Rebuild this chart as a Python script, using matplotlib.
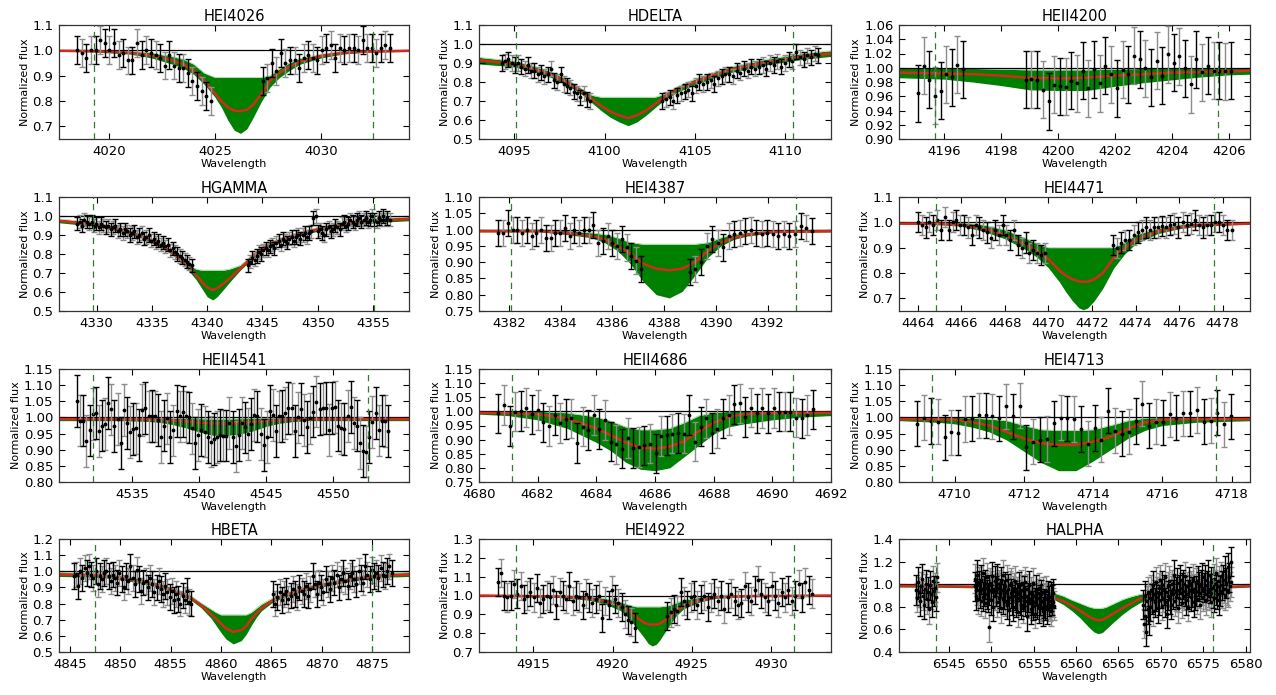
import numpy as np
import matplotlib
matplotlib.use("Agg")
import matplotlib.pyplot as plt

# ---------------- data ----------------
# model grid, best fit (red), green envelope (low/high), observed flux blocks

HEI4026_WAVE = [4017.6, 4019, 4020, 4021, 4022, 4023, 4023.5, 4024, 4024.5, 4025, 4025.3, 4025.6,
                4025.9, 4026.2, 4026.5, 4026.8, 4027.2, 4027.6, 4028, 4028.5, 4029, 4030, 4031,
                4032, 4034.2]
HEI4026_FIT = [0.998, 0.997, 0.995, 0.99, 0.98, 0.96, 0.945, 0.92, 0.88, 0.83, 0.80, 0.775,
               0.762, 0.76, 0.765, 0.785, 0.83, 0.88, 0.91, 0.935, 0.955, 0.978, 0.99,
               0.995, 0.998]
HEI4026_LOW = [0.996, 0.994, 0.99, 0.985, 0.97, 0.945, 0.93, 0.905, 0.865, 0.815, 0.775, 0.725,
               0.685, 0.672, 0.69, 0.735, 0.80, 0.855, 0.89, 0.92, 0.945, 0.97, 0.985,
               0.992, 0.996]
HEI4026_HIGH = [1.0, 1.0, 0.999, 0.997, 0.99, 0.975, 0.965, 0.945, 0.91, 0.893, 0.893, 0.893,
                0.893, 0.893, 0.893, 0.893, 0.893, 0.90, 0.925, 0.95, 0.968, 0.985, 0.995,
                0.998, 1.0]
HEI4026_OBS_RANGES = [(4018.5, 4024.8), (4027.25, 4033.25)]
HEI4026_OBS = [[1.00, 0.99, 0.97, 1.00, 1.00, 1.04, 1.03, 1.00, 1.03, 0.98, 0.99, 0.96, 0.96, 1.03, 0.98,
                1.00, 0.99, 0.98, 0.97, 0.94, 0.98, 0.94, 0.93, 0.93, 0.91, 0.88, 0.86, 0.84, 0.82, 0.80],
               [0.88, 0.89, 0.95, 0.92, 0.99, 0.95, 0.96, 0.96, 0.93, 0.97, 0.98, 0.97, 0.96, 1.00, 1.01,
                1.02, 0.97, 1.01, 1.00, 1.01, 1.01, 1.00, 1.04, 1.01, 1.01, 0.99, 1.01, 1.02, 1.01]]
HEI4026_ERR = 0.055
HEI4026_WINDOW = [4019.3, 4032.45]

HDELTA_WAVE = [4093, 4095, 4096, 4097, 4098, 4098.8, 4099.3, 4099.8, 4100.3, 4100.8, 4101.3, 4101.8,
               4102.3, 4102.8, 4103.3, 4104, 4105, 4106, 4107, 4108, 4109, 4110, 4111, 4112.6]
HDELTA_FIT = [0.915, 0.895, 0.87, 0.84, 0.795, 0.745, 0.71, 0.675, 0.645, 0.625, 0.61, 0.625,
              0.65, 0.685, 0.72, 0.76, 0.80, 0.835, 0.865, 0.885, 0.905, 0.92, 0.935, 0.95]
HDELTA_LOW = [0.895, 0.88, 0.855, 0.825, 0.78, 0.73, 0.69, 0.65, 0.615, 0.59, 0.57, 0.59,
              0.625, 0.665, 0.705, 0.745, 0.785, 0.82, 0.85, 0.87, 0.89, 0.905, 0.92, 0.935]
HDELTA_HIGH = [0.93, 0.91, 0.885, 0.855, 0.81, 0.76, 0.73, 0.72, 0.72, 0.72, 0.72, 0.72,
               0.72, 0.72, 0.735, 0.775, 0.815, 0.85, 0.88, 0.90, 0.92, 0.935, 0.95, 0.965]
HDELTA_OBS_RANGES = [(4094.3, 4099.2), (4103.2, 4111.85)]
HDELTA_OBS = [[0.90, 0.91, 0.92, 0.90, 0.89, 0.90, 0.88, 0.87, 0.89, 0.86, 0.86, 0.84, 0.85, 0.83,
               0.84, 0.87, 0.81, 0.80, 0.84, 0.79, 0.78, 0.77, 0.75, 0.74, 0.72, 0.74, 0.71, 0.70],
              [0.70, 0.71, 0.72, 0.70, 0.73, 0.74, 0.75, 0.76, 0.74, 0.78, 0.80, 0.79, 0.80, 0.81, 0.79,
               0.82, 0.83, 0.84, 0.84, 0.83, 0.86, 0.85, 0.87, 0.86, 0.88, 0.87, 0.88, 0.89, 0.87, 0.90,
               0.89, 0.91, 0.88, 0.90, 0.92, 0.91, 0.96, 0.93, 0.92, 0.94, 0.93, 0.95, 0.94]]
HDELTA_ERR = 0.04
HDELTA_WINDOW = [4095.07, 4110.46]

HEII4200_WAVE = [4194.4, 4196, 4197, 4198, 4199, 4200, 4201, 4202, 4203, 4204, 4205, 4206, 4206.8]
HEII4200_FIT = [0.993, 0.992, 0.991, 0.989, 0.986, 0.985, 0.986, 0.989, 0.991, 0.993, 0.994, 0.995, 0.996]
HEII4200_LOW = [0.986, 0.984, 0.98, 0.975, 0.969, 0.968, 0.968, 0.974, 0.979, 0.983, 0.987, 0.99, 0.991]
HEII4200_HIGH = [0.999, 0.999, 0.999, 0.998, 0.997, 0.997, 0.997, 0.998, 0.999, 0.999, 0.999, 0.999, 0.999]
HEII4200_OBS_RANGES = [(4195.09, 4196.67), (4198.87, 4206.06)]
HEII4200_OBS = [[0.964, 1.003, 0.983, 0.961, 0.968, 0.991, 0.987, 1.004, 0.998],
                [0.983, 0.984, 0.983, 0.969, 0.953, 0.976, 0.974, 0.973, 0.982, 0.978, 0.996, 0.971,
                 0.998, 0.978, 1.003, 0.991, 0.971, 0.997, 0.991, 1.017, 1.012, 0.999, 0.987, 1.010,
                 0.989, 1.019, 1.007, 1.016, 0.999, 0.977, 1.012, 0.994, 1.003, 0.996, 0.996, 0.995, 0.996]]
HEII4200_ERR = 0.04
HEII4200_WINDOW = [4195.67, 4205.6]

HGAMMA_WAVE = [4326.5, 4330, 4332, 4334, 4336, 4337, 4338, 4339, 4339.5, 4340, 4340.5, 4340.9,
               4341.5, 4342, 4343, 4344, 4345, 4346, 4348, 4350, 4352, 4355, 4358.3]
HGAMMA_FIT = [0.975, 0.955, 0.93, 0.895, 0.84, 0.80, 0.75, 0.69, 0.655, 0.625, 0.61, 0.62,
              0.645, 0.67, 0.725, 0.78, 0.83, 0.86, 0.90, 0.93, 0.955, 0.975, 0.985]
HGAMMA_LOW = [0.965, 0.945, 0.92, 0.885, 0.83, 0.79, 0.735, 0.665, 0.62, 0.575, 0.558, 0.575,
              0.615, 0.65, 0.715, 0.77, 0.82, 0.85, 0.89, 0.92, 0.945, 0.965, 0.975]
HGAMMA_HIGH = [0.985, 0.965, 0.94, 0.905, 0.85, 0.81, 0.76, 0.72, 0.715, 0.715, 0.715, 0.715,
               0.715, 0.72, 0.74, 0.79, 0.84, 0.87, 0.91, 0.94, 0.965, 0.985, 0.995]
HGAMMA_OBS_RANGES = [(4328.25, 4338.6), (4343.7, 4356.5)]
HGAMMA_OBS = [[0.96, 0.97, 0.95, 0.98, 0.97, 0.96, 0.97, 0.95, 0.96, 0.94, 0.96, 0.95, 0.94, 0.95,
               0.93, 0.94, 0.95, 0.92, 0.93, 0.91, 0.93, 0.92, 0.90, 0.91, 0.92, 0.89, 0.90, 0.91,
               0.88, 0.89, 0.90, 0.87, 0.88, 0.86, 0.87, 0.85, 0.86, 0.84, 0.85, 0.82, 0.83, 0.81,
               0.80, 0.79, 0.78, 0.77, 0.76, 0.75, 0.74],
              [0.74, 0.76, 0.78, 0.77, 0.79, 0.81, 0.80, 0.82, 0.83, 0.82, 0.84, 0.85, 0.83, 0.86,
               0.87, 0.85, 0.88, 0.87, 0.86, 0.88, 0.89, 0.87, 0.89, 0.90, 0.88, 0.90, 0.91, 0.89,
               0.91, 0.92, 0.99, 1.00, 0.92, 0.93, 0.91, 0.90, 0.93, 0.94, 0.92, 0.93, 0.95, 0.94,
               0.93, 0.96, 0.97, 0.95, 0.96, 0.98, 0.97, 0.96, 0.98, 0.99, 0.97, 0.98, 0.99, 0.97,
               0.98, 1.00, 0.98, 0.97, 0.99, 0.98, 1.00, 0.98, 0.99, 0.98]]
HGAMMA_ERR = 0.035
HGAMMA_WINDOW = [4329.7, 4355.05]

HEI4387_WAVE = [4380.8, 4383.2, 4384.2, 4385.2, 4385.7, 4386.2, 4386.7, 4387.2, 4387.7, 4388.2,
                4388.7, 4389.2, 4389.7, 4390.2, 4390.7, 4391.2, 4392.2, 4394.5]
HEI4387_FIT = [0.995, 0.995, 0.99, 0.98, 0.97, 0.95, 0.925, 0.895, 0.88, 0.875,
               0.88, 0.90, 0.935, 0.96, 0.975, 0.985, 0.993, 0.995]
HEI4387_LOW = [0.993, 0.993, 0.985, 0.975, 0.96, 0.935, 0.895, 0.84, 0.80, 0.79,
               0.81, 0.86, 0.915, 0.95, 0.97, 0.98, 0.99, 0.993]
HEI4387_HIGH = [1.0, 1.0, 0.997, 0.99, 0.985, 0.975, 0.96, 0.955, 0.955, 0.955,
                0.955, 0.955, 0.96, 0.975, 0.985, 0.99, 0.997, 1.0]
HEI4387_OBS_RANGES = [(4381.6, 4387.1), (4389.0, 4393.7)]
HEI4387_OBS = [[0.99, 0.99, 1.02, 1.00, 1.00, 0.99, 1.00, 0.98, 0.99, 1.00, 0.975, 0.975, 0.99, 0.99,
                1.005, 0.98, 1.00, 0.99, 1.00, 1.00, 1.015, 0.96, 0.965, 0.98, 0.96, 0.95, 0.97,
                0.945, 0.92, 0.905, 0.88],
               [0.87, 0.88, 0.90, 0.95, 0.97, 0.96, 0.945, 0.98, 0.985, 0.99, 0.995, 1.00, 0.99,
                0.985, 0.99, 0.985, 0.98, 0.985, 0.98, 0.985, 1.01, 1.005, 0.995]]
HEI4387_ERR = 0.04
HEI4387_WINDOW = [4382.1, 4393.1]

HEI4471_WAVE = [4463.1, 4465, 4466, 4467, 4468, 4469, 4469.5, 4470, 4470.5, 4470.8, 4471.1, 4471.4,
                4471.6, 4471.8, 4472.1, 4472.5, 4473, 4473.5, 4474, 4475, 4476, 4477, 4479.3]
HEI4471_FIT = [0.995, 0.995, 0.99, 0.975, 0.95, 0.91, 0.885, 0.855, 0.81, 0.79, 0.775, 0.767,
               0.765, 0.766, 0.775, 0.80, 0.86, 0.90, 0.93, 0.965, 0.98, 0.99, 0.995]
HEI4471_LOW = [0.993, 0.99, 0.985, 0.965, 0.935, 0.89, 0.86, 0.82, 0.765, 0.725, 0.69, 0.662,
               0.655, 0.662, 0.69, 0.74, 0.82, 0.875, 0.915, 0.955, 0.975, 0.985, 0.993]
HEI4471_HIGH = [1.0, 1.0, 0.998, 0.99, 0.97, 0.935, 0.915, 0.90, 0.90, 0.90, 0.90, 0.90,
                0.90, 0.90, 0.90, 0.90, 0.90, 0.92, 0.95, 0.975, 0.99, 0.997, 1.0]
HEI4471_OBS_RANGES = [(4464.0, 4469.83), (4472.97, 4478.41)]
HEI4471_OBS = [[1.00, 0.99, 0.98, 1.00, 0.99, 1.01, 0.97, 1.02, 0.97, 1.00, 1.01, 0.99, 0.99, 0.98,
                0.95, 0.99, 0.98, 0.97, 0.96, 0.94, 0.97, 0.95, 0.99, 0.95, 0.93, 0.97, 0.91, 0.90,
                0.92, 0.88, 0.89, 0.88, 0.87, 0.88],
               [0.91, 0.90, 0.92, 0.93, 0.93, 0.95, 0.96, 0.97, 0.98, 0.97, 0.98, 0.98, 0.985, 0.98,
                0.99, 0.995, 0.98, 1.00, 0.99, 0.995, 1.01, 0.99, 0.98, 0.99, 0.99, 1.00, 1.00, 0.99,
                0.97, 0.97]]
HEI4471_ERR = 0.04
HEI4471_WINDOW = [4464.81, 4477.62]

HEII4541_WAVE = [4529.5, 4534, 4536, 4537, 4538, 4539, 4540, 4541, 4542, 4543, 4544, 4545,
                 4546, 4547, 4548, 4550, 4555.7]
HEII4541_FIT = [0.995, 0.995, 0.994, 0.993, 0.991, 0.988, 0.984, 0.981, 0.981, 0.983, 0.986, 0.989,
                0.992, 0.994, 0.995, 0.995, 0.995]
HEII4541_LOW = [0.99, 0.99, 0.988, 0.985, 0.978, 0.968, 0.955, 0.945, 0.944, 0.948, 0.958, 0.972,
                0.982, 0.987, 0.99, 0.99, 0.99]
HEII4541_HIGH = [1.0, 1.0, 1.0, 0.999, 0.998, 0.997, 0.996, 0.995, 0.995, 0.996, 0.997, 0.998,
                 0.999, 1.0, 1.0, 1.0, 1.0]
HEII4541_OBS_RANGES = [(4530.9, 4554.1)]
HEII4541_OBS = [[1.051, 0.99, 0.99, 0.928, 0.96, 1.01, 1.013, 0.958, 0.975, 0.979, 1.044, 1.025,
                 0.974, 0.995, 0.92, 1.023, 0.982, 0.954, 0.965, 0.966, 0.946, 1.023, 1.03, 1.003,
                 1.005, 1.003, 0.993, 0.94, 0.975, 0.997, 0.94, 0.96, 1.02, 1.003, 1.018, 1.003,
                 1.0, 0.966, 0.92, 0.946, 0.962, 0.956, 0.94, 0.925, 0.934, 0.94, 0.946, 0.944,
                 0.944, 0.982, 0.94, 0.91, 0.946, 0.982, 0.969, 0.948, 0.98, 1.008, 1.003, 0.948,
                 0.915, 0.94, 1.02, 1.008, 0.958, 1.003, 1.005, 1.013, 1.03, 1.028, 0.958, 1.0,
                 1.026, 0.993, 0.97, 0.997, 1.018, 1.049, 1.026, 1.028, 1.03, 0.962, 1.03, 1.033,
                 0.975, 0.966, 0.965, 1.005, 1.033, 0.982, 0.975, 0.92, 0.896, 0.894, 0.94, 0.985,
                 1.013, 0.96, 0.99, 0.988, 0.958]]
HEII4541_ERR = 0.08
HEII4541_WINDOW = [4532.1, 4552.6]

HEII4686_WAVE = [4680, 4681, 4682, 4683, 4684, 4684.5, 4685, 4685.5, 4686, 4686.5, 4687, 4687.5,
                 4688, 4688.5, 4689, 4690, 4691, 4692]
HEII4686_FIT = [0.995, 0.994, 0.99, 0.975, 0.94, 0.915, 0.89, 0.872, 0.868, 0.875, 0.895, 0.93,
                0.96, 0.98, 0.99, 0.994, 0.995, 0.995]
HEII4686_LOW = [0.99, 0.985, 0.97, 0.94, 0.89, 0.86, 0.82, 0.795, 0.79, 0.80, 0.84, 0.88,
                0.92, 0.945, 0.955, 0.97, 0.98, 0.985]
HEII4686_HIGH = [1.0, 1.0, 1.0, 0.995, 0.98, 0.965, 0.945, 0.935, 0.935, 0.94, 0.96, 0.985,
                 0.995, 1.0, 1.0, 1.0, 1.0, 1.0]
HEII4686_OBS_RANGES = [(4680.66, 4691.38)]
HEII4686_OBS = [[0.993, 1.022, 0.949, 0.999, 1.001, 1.013, 0.989, 1.005, 0.961, 0.949, 0.987, 0.958,
                 0.973, 0.975, 0.889, 0.946, 0.934, 0.987, 0.937, 0.969, 0.893, 0.883, 0.868, 0.906,
                 0.871, 0.874, 0.880, 0.886, 0.851, 0.913, 0.915, 0.921, 0.924, 0.921, 0.987, 0.893,
                 0.946, 0.975, 0.924, 0.939, 0.975, 0.987, 1.025, 1.028, 0.981, 1.013, 0.993, 1.011,
                 0.993, 1.011, 0.999, 0.999, 0.999, 0.978, 0.975, 0.987, 1.007]]
HEII4686_ERR = 0.07
HEII4686_WINDOW = [4681.12, 4690.72]

HEI4713_WAVE = [4708.4, 4709.5, 4710, 4710.5, 4711, 4711.5, 4712, 4712.5, 4713, 4713.5, 4714,
                4714.5, 4715, 4715.5, 4716, 4717, 4718.6]
HEI4713_FIT = [0.995, 0.994, 0.993, 0.985, 0.975, 0.955, 0.935, 0.92, 0.915, 0.915, 0.925,
               0.94, 0.965, 0.985, 0.993, 0.995, 0.995]
HEI4713_LOW = [0.99, 0.985, 0.98, 0.97, 0.955, 0.93, 0.895, 0.86, 0.835, 0.835, 0.865,
               0.90, 0.935, 0.96, 0.975, 0.985, 0.99]
HEI4713_HIGH = [1.0, 1.0, 1.0, 0.998, 0.995, 0.99, 0.975, 0.962, 0.96, 0.96, 0.962,
                0.975, 0.99, 0.998, 1.0, 1.0, 1.0]
HEI4713_OBS_RANGES = [(4708.92, 4717.98)]
HEI4713_OBS = [[0.98, 0.999, 0.989, 0.987, 0.939, 0.954, 0.953, 0.995, 0.997, 1.006, 1.006, 1.003,
                0.997, 1.034, 1.003, 1.036, 0.907, 0.925, 0.931, 0.933, 0.982, 0.999, 0.997, 0.995,
                0.964, 0.919, 0.967, 0.931, 1.021, 0.959, 0.949, 0.956, 0.989, 1.042, 0.975, 0.987,
                0.985, 1.01, 0.999, 1.013, 1.013, 1.023, 0.987, 0.99, 1.015, 0.979, 1.003]]
HEI4713_ERR = 0.07
HEI4713_WINDOW = [4709.33, 4717.54]

HBETA_WAVE = [4843.9, 4848, 4850, 4852, 4854, 4856, 4857, 4858, 4859, 4859.5, 4860, 4860.5, 4861.2,
              4862, 4862.5, 4863, 4863.5, 4864, 4865, 4866, 4868, 4870, 4872, 4874, 4876, 4878.7]
HBETA_FIT = [0.98, 0.975, 0.96, 0.94, 0.91, 0.865, 0.835, 0.79, 0.735, 0.705, 0.675, 0.645, 0.625,
             0.635, 0.66, 0.705, 0.74, 0.77, 0.815, 0.845, 0.885, 0.915, 0.94, 0.96, 0.975, 0.98]
HBETA_LOW = [0.968, 0.963, 0.948, 0.928, 0.898, 0.853, 0.822, 0.775, 0.71, 0.665, 0.62, 0.58, 0.55,
             0.57, 0.61, 0.665, 0.715, 0.755, 0.803, 0.833, 0.873, 0.903, 0.928, 0.948, 0.963, 0.968]
HBETA_HIGH = [0.992, 0.987, 0.972, 0.952, 0.922, 0.877, 0.848, 0.805, 0.765, 0.745, 0.73, 0.73, 0.73,
              0.73, 0.73, 0.745, 0.77, 0.795, 0.83, 0.857, 0.897, 0.927, 0.952, 0.972, 0.987, 0.992]
HBETA_OBS_RANGES = [(4845.4, 4857.06), (4865.15, 4876.9)]
HBETA_OBS = [[0.97, 0.98, 0.91, 1.00, 0.96, 1.02, 0.99, 1.03, 0.98, 0.96, 1.00, 0.92, 0.97, 0.95,
              0.99, 1.00, 0.97, 0.94, 0.98, 0.96, 0.93, 0.99, 0.95, 0.90, 0.97, 0.94, 1.03, 0.96,
              0.92, 1.01, 0.95, 0.88, 0.93, 0.94, 0.90, 0.96, 0.92, 0.87, 0.90, 0.94, 0.89, 0.86,
              0.91, 0.87, 0.84, 0.88, 0.82, 0.86, 0.83, 0.80, 0.85, 0.82, 0.88, 0.81, 0.80],
             [0.86, 0.80, 0.84, 0.87, 0.82, 0.86, 0.88, 0.83, 0.85, 0.89, 0.86, 0.84, 0.90, 0.88,
              0.86, 0.91, 0.85, 0.89, 0.97, 0.92, 0.86, 0.93, 0.90, 0.87, 0.95, 0.92, 0.89, 0.96,
              0.93, 0.98, 0.90, 0.95, 0.99, 0.94, 0.91, 0.97, 0.99, 0.95, 0.92, 1.00, 0.96, 0.93,
              1.03, 0.98, 0.95, 1.01, 0.97, 0.99, 0.96, 1.02, 0.98, 0.97, 1.00, 1.03, 0.99]]
HBETA_ERR = 0.08
HBETA_WINDOW = [4847.5, 4875.0]

HEI4922_WAVE = [4911.5, 4916.5, 4918.5, 4919.5, 4920.5, 4921, 4921.5, 4922, 4922.25, 4922.5,
                4922.75, 4923, 4923.5, 4924, 4924.5, 4925.5, 4926.5, 4928.5, 4933.9]
HEI4922_FIT = [1.0, 0.995, 0.985, 0.97, 0.945, 0.92, 0.885, 0.855, 0.848, 0.845,
               0.846, 0.85, 0.88, 0.915, 0.945, 0.975, 0.99, 0.997, 1.0]
HEI4922_LOW = [0.998, 0.99, 0.975, 0.955, 0.92, 0.88, 0.83, 0.775, 0.745, 0.732,
               0.74, 0.765, 0.83, 0.89, 0.93, 0.965, 0.985, 0.995, 0.998]
HEI4922_HIGH = [1.0, 1.0, 0.995, 0.985, 0.965, 0.95, 0.94, 0.94, 0.94, 0.94,
                0.94, 0.94, 0.945, 0.96, 0.975, 0.99, 0.997, 1.0, 1.0]
HEI4922_OBS_RANGES = [(4912.74, 4921.4), (4923.45, 4932.6)]
HEI4922_OBS = [[1.07, 1.12, 1.00, 0.99, 1.00, 1.06, 1.01, 1.05, 0.98, 1.00, 1.02, 0.99, 1.04, 0.96,
                0.98, 1.00, 0.99, 1.03, 0.95, 1.02, 1.00, 0.98, 1.05, 0.97, 1.00, 0.99, 0.95, 1.01,
                0.99, 0.96, 0.98, 1.00, 0.88, 0.97, 0.95, 1.03, 0.98, 0.96, 0.94, 0.90, 0.87, 0.86,
                0.83],
               [0.89, 0.91, 0.93, 0.92, 1.02, 0.97, 0.95, 0.99, 1.00, 0.95, 0.98, 1.00, 0.94, 0.99,
                1.01, 0.97, 1.00, 0.93, 0.99, 1.01, 0.97, 0.95, 0.96, 1.05, 0.99, 0.97, 1.03, 1.08,
                1.01, 0.99, 0.97, 1.05, 1.00, 0.96, 1.02, 0.99, 1.03, 0.97, 1.00, 1.06, 0.99, 1.07,
                1.03, 1.01]]
HEI4922_ERR = 0.075
HEI4922_WINDOW = [4913.9, 4931.48]

HALPHA_WAVE = [6539.1, 6545, 6550, 6554, 6556, 6557.5, 6558.5, 6559.5, 6560.5, 6561.5, 6562.1,
               6562.6, 6563.1, 6563.5, 6564.5, 6565.5, 6566.5, 6567.5, 6569, 6572, 6576, 6580.6]
HALPHA_FIT = [0.985, 0.982, 0.975, 0.955, 0.925, 0.875, 0.85, 0.81, 0.765, 0.715, 0.692,
              0.68, 0.686, 0.70, 0.745, 0.79, 0.83, 0.87, 0.905, 0.94, 0.97, 0.985]
HALPHA_LOW = [0.975, 0.972, 0.965, 0.94, 0.905, 0.86, 0.82, 0.765, 0.70, 0.62, 0.578,
              0.562, 0.572, 0.60, 0.67, 0.735, 0.79, 0.835, 0.885, 0.925, 0.96, 0.975]
HALPHA_HIGH = [0.995, 0.992, 0.985, 0.97, 0.945, 0.92, 0.895, 0.86, 0.83, 0.80, 0.788,
               0.785, 0.788, 0.795, 0.83, 0.865, 0.89, 0.91, 0.93, 0.955, 0.98, 0.995]
HALPHA_OBS_RANGES = [(6541.1, 6543.6), (6548.07, 6557.4), (6567.9, 6578.3)]
HALPHA_OBS = [[0.95, 0.88, 1.02, 0.93, 0.85, 0.98, 1.05, 0.90, 0.82, 0.96, 1.00, 0.87, 0.93, 0.78,
               0.99, 0.91, 0.84, 1.03, 0.94, 0.97, 0.89, 1.06],
              [0.98, 1.05, 0.90, 0.95, 1.08, 0.87, 0.99, 1.02, 0.92, 0.85, 1.04, 0.96,
               0.89, 1.10, 0.94, 0.83, 1.00, 0.97, 0.91, 1.06, 0.88, 0.62, 0.95, 1.01,
               0.86, 0.99, 1.07, 0.93, 0.80, 0.96, 1.03, 0.90, 0.94, 0.84, 1.05, 0.97,
               0.88, 1.00, 0.92, 0.79, 1.02, 0.95, 0.87, 1.08, 0.91, 0.85, 0.98, 0.93,
               0.82, 1.04, 0.96, 0.89, 0.77, 0.99, 0.92, 1.01, 0.86, 0.94, 0.80, 0.97,
               0.90, 1.03, 0.84, 0.93, 0.88, 0.75, 0.98, 0.91, 0.86, 1.00, 0.82, 0.95,
               0.89, 0.79, 0.94, 1.02, 0.85, 0.90, 0.72, 0.96, 0.88, 0.83, 0.99, 0.87,
               0.78, 0.93, 0.86, 1.01, 0.81, 0.90, 0.84, 0.74, 0.95, 0.88, 0.82, 0.92,
               0.79, 0.97, 0.86, 0.80, 0.91, 0.85, 0.76, 0.93, 0.83, 0.88, 0.81, 0.94,
               0.78, 0.87, 0.90, 0.82, 0.85, 0.80, 0.89, 0.76, 0.86, 0.84, 0.92, 0.81],
              [0.82, 0.65, 0.90, 0.72, 0.58, 0.85, 0.78, 0.93, 0.68, 0.88, 0.80, 0.95,
               0.87, 0.76, 0.99, 0.91, 0.84, 1.02, 0.89, 0.93, 0.79, 0.97, 0.86, 1.04,
               0.92, 0.81, 0.99, 0.88, 0.95, 1.06, 0.84, 0.93, 0.74, 0.98, 0.90, 1.03,
               0.87, 0.94, 0.82, 1.00, 0.91, 0.96, 1.08, 0.85, 0.93, 0.89, 1.01, 0.79,
               0.95, 0.88, 1.04, 0.92, 0.97, 0.83, 1.00, 0.90, 0.94, 1.07, 0.86, 0.98,
               0.91, 0.80, 1.02, 0.95, 0.89, 0.99, 0.93, 1.05, 0.84, 0.96, 0.90, 1.01,
               0.94, 0.87, 1.03, 0.92, 0.98, 0.82, 1.00, 0.95, 1.06, 0.89, 0.97, 0.91,
               1.04, 0.86, 0.99, 0.93, 1.08, 0.90, 0.96, 0.84, 1.02, 0.97, 0.92, 1.05,
               0.88, 1.00, 0.95, 1.10, 0.91, 0.98, 0.86, 1.03, 0.94, 1.07, 0.99, 0.92,
               1.04, 0.96, 1.12, 0.90, 1.01, 0.95, 1.15, 0.93, 1.06, 0.98, 1.20, 1.02]]
HALPHA_ERR = 0.13
HALPHA_WINDOW = [6543.47, 6576.1]

# ---------------- axis setup per panel ----------------
AXES_SETUP = {
    "HEI4026": dict(xlim=(4017.64, 4034.15), xticks=[4020, 4025, 4030],
                    ylim=(0.65, 1.1), yticks=[0.7, 0.8, 0.9, 1.0, 1.1], fmt="%.1f"),
    "HDELTA": dict(xlim=(4093.04, 4112.55), xticks=[4095, 4100, 4105, 4110],
                   ylim=(0.5, 1.1), yticks=[0.5, 0.6, 0.7, 0.8, 0.9, 1.0, 1.1], fmt="%.1f"),
    "HEII4200": dict(xlim=(4194.42, 4206.74), xticks=[4196, 4198, 4200, 4202, 4204, 4206],
                     ylim=(0.90, 1.06), yticks=[0.90, 0.92, 0.94, 0.96, 0.98, 1.00, 1.02, 1.04, 1.06],
                     fmt="%.2f"),
    "HGAMMA": dict(xlim=(4326.6, 4358.25), xticks=[4330, 4335, 4340, 4345, 4350, 4355],
                   ylim=(0.5, 1.1), yticks=[0.5, 0.6, 0.7, 0.8, 0.9, 1.0, 1.1], fmt="%.1f"),
    "HEI4387": dict(xlim=(4380.85, 4394.45), xticks=[4382, 4384, 4386, 4388, 4390, 4392],
                    ylim=(0.75, 1.10), yticks=[0.75, 0.80, 0.85, 0.90, 0.95, 1.00, 1.05, 1.10],
                    fmt="%.2f"),
    "HEI4471": dict(xlim=(4463.13, 4479.26), xticks=[4464, 4466, 4468, 4470, 4472, 4474, 4476, 4478],
                    ylim=(0.65, 1.1), yticks=[0.7, 0.8, 0.9, 1.0, 1.1], fmt="%.1f"),
    "HEII4541": dict(xlim=(4529.55, 4555.67), xticks=[4535, 4540, 4545, 4550],
                     ylim=(0.80, 1.15), yticks=[0.80, 0.85, 0.90, 0.95, 1.00, 1.05, 1.10, 1.15],
                     fmt="%.2f"),
    "HEII4686": dict(xlim=(4680, 4692), xticks=[4680, 4682, 4684, 4686, 4688, 4690, 4692],
                     ylim=(0.75, 1.15), yticks=[0.75, 0.80, 0.85, 0.90, 0.95, 1.00, 1.05, 1.10, 1.15],
                     fmt="%.2f"),
    "HEI4713": dict(xlim=(4708.39, 4718.53), xticks=[4710, 4712, 4714, 4716, 4718],
                    ylim=(0.80, 1.15), yticks=[0.80, 0.85, 0.90, 0.95, 1.00, 1.05, 1.10, 1.15],
                    fmt="%.2f"),
    "HBETA": dict(xlim=(4843.94, 4878.63), xticks=[4845, 4850, 4855, 4860, 4865, 4870, 4875],
                  ylim=(0.5, 1.2), yticks=[0.5, 0.6, 0.7, 0.8, 0.9, 1.0, 1.1, 1.2], fmt="%.1f"),
    "HEI4922": dict(xlim=(4911.56, 4933.8), xticks=[4915, 4920, 4925, 4930],
                    ylim=(0.7, 1.3), yticks=[0.7, 0.8, 0.9, 1.0, 1.1, 1.2, 1.3], fmt="%.1f"),
    "HALPHA": dict(xlim=(6539.14, 6580.5), xticks=[6545, 6550, 6555, 6560, 6565, 6570, 6575, 6580],
                   ylim=(0.4, 1.4), yticks=[0.4, 0.6, 0.8, 1.0, 1.2, 1.4], fmt="%.1f"),
}

PANELS = [
    ("HEI4026", HEI4026_WAVE, HEI4026_FIT, HEI4026_LOW, HEI4026_HIGH, HEI4026_OBS_RANGES, HEI4026_OBS, HEI4026_ERR, HEI4026_WINDOW),
    ("HDELTA", HDELTA_WAVE, HDELTA_FIT, HDELTA_LOW, HDELTA_HIGH, HDELTA_OBS_RANGES, HDELTA_OBS, HDELTA_ERR, HDELTA_WINDOW),
    ("HEII4200", HEII4200_WAVE, HEII4200_FIT, HEII4200_LOW, HEII4200_HIGH, HEII4200_OBS_RANGES, HEII4200_OBS, HEII4200_ERR, HEII4200_WINDOW),
    ("HGAMMA", HGAMMA_WAVE, HGAMMA_FIT, HGAMMA_LOW, HGAMMA_HIGH, HGAMMA_OBS_RANGES, HGAMMA_OBS, HGAMMA_ERR, HGAMMA_WINDOW),
    ("HEI4387", HEI4387_WAVE, HEI4387_FIT, HEI4387_LOW, HEI4387_HIGH, HEI4387_OBS_RANGES, HEI4387_OBS, HEI4387_ERR, HEI4387_WINDOW),
    ("HEI4471", HEI4471_WAVE, HEI4471_FIT, HEI4471_LOW, HEI4471_HIGH, HEI4471_OBS_RANGES, HEI4471_OBS, HEI4471_ERR, HEI4471_WINDOW),
    ("HEII4541", HEII4541_WAVE, HEII4541_FIT, HEII4541_LOW, HEII4541_HIGH, HEII4541_OBS_RANGES, HEII4541_OBS, HEII4541_ERR, HEII4541_WINDOW),
    ("HEII4686", HEII4686_WAVE, HEII4686_FIT, HEII4686_LOW, HEII4686_HIGH, HEII4686_OBS_RANGES, HEII4686_OBS, HEII4686_ERR, HEII4686_WINDOW),
    ("HEI4713", HEI4713_WAVE, HEI4713_FIT, HEI4713_LOW, HEI4713_HIGH, HEI4713_OBS_RANGES, HEI4713_OBS, HEI4713_ERR, HEI4713_WINDOW),
    ("HBETA", HBETA_WAVE, HBETA_FIT, HBETA_LOW, HBETA_HIGH, HBETA_OBS_RANGES, HBETA_OBS, HBETA_ERR, HBETA_WINDOW),
    ("HEI4922", HEI4922_WAVE, HEI4922_FIT, HEI4922_LOW, HEI4922_HIGH, HEI4922_OBS_RANGES, HEI4922_OBS, HEI4922_ERR, HEI4922_WINDOW),
    ("HALPHA", HALPHA_WAVE, HALPHA_FIT, HALPHA_LOW, HALPHA_HIGH, HALPHA_OBS_RANGES, HALPHA_OBS, HALPHA_ERR, HALPHA_WINDOW),
]

W, H = 1276, 695
COL_X = [(59, 409), (479, 831), (899, 1250)]
ROW_Y = [(25, 139), (197, 311), (369, 482), (539, 652)]


def draw_panel(ax, name, wave, fit, low, high, obs_ranges, obs, err, window):
    setup = AXES_SETUP[name]
    ax.fill_between(wave, low, high, color="#008000", lw=0, zorder=1)
    ax.plot(wave, high, color="#a8d8a8", lw=0.6, zorder=1.2)
    ax.axhline(1.0, color="k", lw=0.9, zorder=1.5)
    ax.plot(wave, fit, color="#d42a1c", lw=1.8, zorder=2)

    for (a, b), flux in zip(obs_ranges, obs):
        xs = np.linspace(a, b, len(flux))
        ys = np.array(flux)
        ax.errorbar(xs[1::2], ys[1::2], yerr=err, fmt="none", ecolor="#8c8c8c",
                    elinewidth=1, capsize=2.2, capthick=1, zorder=3)
        ax.errorbar(xs[::2], ys[::2], yerr=err, fmt="none", ecolor="k",
                    elinewidth=1, capsize=2.2, capthick=1, zorder=3.2)
        ax.plot(xs, ys, "k.", ms=3.5, zorder=4)

    for w in window:
        ax.axvline(w, color="#2e7d2e", ls=(0, (5, 4)), lw=0.9, zorder=5)

    ax.set_xlim(setup["xlim"])
    ax.set_ylim(setup["ylim"])
    ax.set_xticks(setup["xticks"])
    ax.set_yticks(setup["yticks"])
    ax.set_yticklabels([setup["fmt"] % v for v in setup["yticks"]])
    ax.set_xticklabels([str(v) for v in setup["xticks"]])
    ax.tick_params(direction="in", top=True, right=True, length=4, width=0.8,
                   labelsize=9.5, pad=4)
    for s in ax.spines.values():
        s.set_color("#333333")
        s.set_linewidth(0.9)
    ax.set_title(name, fontsize=10.5, pad=3)
    ax.set_xlabel("Wavelength", fontsize=8, labelpad=1)
    ax.set_ylabel("Normalized flux", fontsize=8, labelpad=2)


fig = plt.figure(figsize=(W / 100, H / 100), dpi=100)
for i, panel in enumerate(PANELS):
    r, c = divmod(i, 3)
    x0, x1 = COL_X[c]
    y0, y1 = ROW_Y[r]
    ax = fig.add_axes([x0 / W, 1 - y1 / H, (x1 - x0) / W, (y1 - y0) / H])
    draw_panel(ax, *panel)

fig.savefig("out.png", dpi=100)
